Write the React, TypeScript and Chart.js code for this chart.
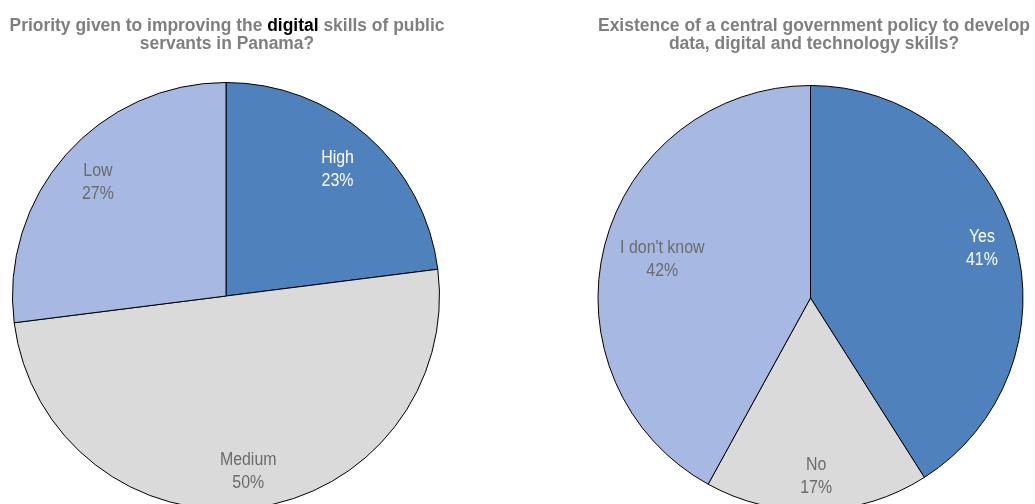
import React, { useEffect, useRef } from "react";
import { Chart, registerables } from "chart.js";

Chart.register(...registerables);

// ---- Data ----
const leftCategories = ["High", "Medium", "Low"];
const leftValues = [23, 50, 27];
const rightCategories = ["Yes", "No", "I don't know"];
const rightValues = [41, 17, 42];

// ---- Styles ----
const BLUE = "#4F81BD";
const GREY = "#DADADA";
const LIGHT = "#A7B8E2";
const TITLE_GREY = "#7F7F7F";
const LABEL_GREY = "#6B6B6B";

const leftColors = [BLUE, GREY, LIGHT];
const leftLabelColors = ["#FFFFFF", LABEL_GREY, LABEL_GREY];
const leftLabelRadius = [0.79, 0.83, 0.8];
const rightColors = [BLUE, GREY, LIGHT];
const rightLabelColors = ["#FFFFFF", LABEL_GREY, LABEL_GREY];
const rightLabelRadius = [0.84, 0.84, 0.72];

type Seg = { t: string; c: string };

const leftTitle: Seg[][] = [
  [
    { t: "Priority given to improving the ", c: TITLE_GREY },
    { t: "digital", c: "#000000" },
    { t: " skills of public", c: TITLE_GREY },
  ],
  [{ t: "servants in Panama?", c: TITLE_GREY }],
];
const rightTitle: Seg[][] = [
  [{ t: "Existence of a central government policy to develop", c: TITLE_GREY }],
  [{ t: "data, digital and technology skills?", c: TITLE_GREY }],
];

const TITLE_FONT = 'bold 18px "Liberation Sans Narrow", "Arial Narrow", "Liberation Sans", Arial, sans-serif';
const LABEL_FONT = '17.5px "Liberation Sans", Arial, sans-serif';
const LABEL_SCALE_X = 0.91;

const titlePlugin = {
  id: "customTitle",
  afterDraw(chart: any, _args: any, opts: any) {
    const ctx = chart.ctx as CanvasRenderingContext2D;
    const lines: Seg[][] = opts.lines;
    ctx.save();
    ctx.font = TITLE_FONT;
    ctx.textBaseline = "alphabetic";
    ctx.textAlign = "left";
    const measure = (l: Seg[]) => l.reduce((s, g) => s + ctx.measureText(g.t).width, 0);
    const scale = opts.targetWidth / measure(lines[0]);
    lines.forEach((line, i) => {
      const w = measure(line) * scale;
      const y = opts.baselines[i];
      ctx.save();
      ctx.translate(opts.cx - w / 2, y);
      ctx.scale(scale, 1);
      let x = 0;
      line.forEach((g) => {
        ctx.fillStyle = g.c;
        ctx.fillText(g.t, x, 0);
        x += ctx.measureText(g.t).width;
      });
      ctx.restore();
    });
    ctx.restore();
  },
};

const labelPlugin = {
  id: "sliceLabels",
  afterDatasetsDraw(chart: any, _args: any, opts: any) {
    const ctx = chart.ctx as CanvasRenderingContext2D;
    const meta = chart.getDatasetMeta(0);
    const data = chart.data.datasets[0].data as number[];
    const labels = chart.data.labels as string[];
    ctx.save();
    ctx.font = LABEL_FONT;
    ctx.textAlign = "center";
    ctx.textBaseline = "middle";
    meta.data.forEach((arc: any, i: number) => {
      const p = arc.getProps(["x", "y", "startAngle", "endAngle", "outerRadius"], true);
      const mid = (p.startAngle + p.endAngle) / 2;
      const r = p.outerRadius * opts.radius[i];
      const px = p.x + Math.cos(mid) * r;
      const py = p.y + Math.sin(mid) * r;
      ctx.save();
      ctx.translate(px, py);
      ctx.scale(LABEL_SCALE_X, 1);
      ctx.fillStyle = opts.colors[i];
      ctx.fillText(labels[i], 0, -11.5);
      ctx.fillText(`${data[i]}%`, 0, 11.5);
      ctx.restore();
    });
    ctx.restore();
  },
};

type PieProps = {
  left: number;
  width: number;
  height: number;
  padding: { left: number; top: number; right: number; bottom: number };
  categories: string[];
  values: number[];
  colors: string[];
  labelColors: string[];
  labelRadius: number[];
  title: Seg[][];
  titleCx: number;
  titleWidth: number;
};

function Pie(props: PieProps) {
  const ref = useRef<HTMLCanvasElement>(null);
  useEffect(() => {
    if (!ref.current) return;
    const chart = new Chart(ref.current, {
      type: "pie",
      data: {
        labels: props.categories,
        datasets: [
          {
            data: props.values,
            backgroundColor: props.colors,
            borderColor: "#000000",
            borderWidth: 1,
          },
        ],
      },
      options: {
        responsive: false,
        animation: false,
        layout: { padding: props.padding },
        plugins: {
          legend: { display: false },
          tooltip: { enabled: false },
          title: { display: false },
          customTitle: {
            lines: props.title,
            cx: props.titleCx,
            targetWidth: props.titleWidth,
            baselines: [31, 49],
          },
          sliceLabels: { colors: props.labelColors, radius: props.labelRadius },
        } as any,
      },
      plugins: [titlePlugin, labelPlugin],
    });
    return () => chart.destroy();
  }, []);
  return (
    <canvas
      ref={ref}
      width={props.width}
      height={props.height}
      style={{
        position: "absolute",
        left: props.left,
        top: 0,
        width: props.width,
        height: props.height,
      }}
    />
  );
}

export default function App() {
  return (
    <div
      style={{
        position: "absolute",
        left: 0,
        top: 0,
        width: 1035,
        height: 504,
        overflow: "hidden",
        background: "#FFFFFF",
      }}
    >
      <Pie
        left={0}
        width={517}
        height={600}
        padding={{ left: 12, top: 82, right: 77, bottom: 90 }}
        categories={leftCategories}
        values={leftValues}
        colors={leftColors}
        labelColors={leftLabelColors}
        labelRadius={leftLabelRadius}
        title={leftTitle}
        titleCx={227}
        titleWidth={435}
      />
      <Pie
        left={517}
        width={518}
        height={600}
        padding={{ left: 80, top: 85, right: 11, bottom: 89 }}
        categories={rightCategories}
        values={rightValues}
        colors={rightColors}
        labelColors={rightLabelColors}
        labelRadius={rightLabelRadius}
        title={rightTitle}
        titleCx={297}
        titleWidth={432}
      />
    </div>
  );
}
